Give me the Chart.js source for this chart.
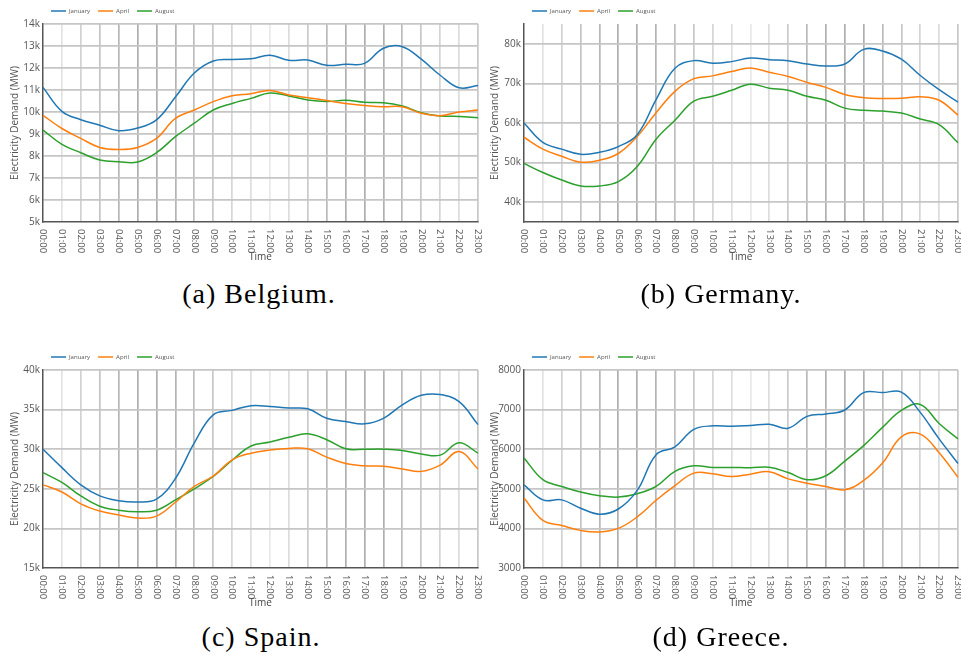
<!DOCTYPE html>
<html>
<head>
<meta charset="utf-8">
<script src="https://cdn.jsdelivr.net/npm/chart.js@4.4.1/dist/chart.umd.min.js"></script>
<style>
  html, body { margin: 0; padding: 0; background: #fff; }
  body { width: 961px; height: 660px; position: relative; overflow: hidden; }
  canvas { position: absolute; display: block; }
  .cap {
    position: absolute; width: 320px; text-align: center;
    font-family: 'Liberation Serif', 'DejaVu Serif', 'Noto Serif', Tinos, 'Times New Roman', Times, FreeSerif, Georgia, serif;
    font-size: 28px; line-height: 28px; letter-spacing: 1px; color: #000;
  }
</style>
</head>
<body>
<canvas id="belgium" width="492" height="270" style="left:0;top:0"></canvas>
<canvas id="germany" width="481" height="270" style="left:480px;top:0"></canvas>
<canvas id="spain" width="492" height="270" style="left:0;top:346px"></canvas>
<canvas id="greece" width="481" height="270" style="left:480px;top:346px"></canvas>
<div class="cap" style="left:99px;top:280px">(a) Belgium.</div>
<div class="cap" style="left:561px;top:280px">(b) Germany.</div>
<div class="cap" style="left:101px;top:623px">(c) Spain.</div>
<div class="cap" style="left:561px;top:623px">(d) Greece.</div>
<script>
// Hour-of-day categories
const hours = ['00:00','01:00','02:00','03:00','04:00','05:00','06:00','07:00','08:00','09:00','10:00','11:00',
               '12:00','13:00','14:00','15:00','16:00','17:00','18:00','19:00','20:00','21:00','22:00','23:00'];
const months = ['January', 'April', 'August'];

// Average hourly electricity demand (MW)
const belgiumJan = [11120, 10030, 9650, 9400, 9150, 9270, 9640, 10680, 11770, 12320, 12390, 12420, 12580, 12350, 12360, 12120, 12170, 12210, 12900, 12970, 12400, 11670, 11100, 11200];
const belgiumApr = [9850, 9250, 8800, 8390, 8300, 8390, 8800, 9710, 10090, 10470, 10740, 10830, 10980, 10770, 10650, 10520, 10390, 10300, 10240, 10240, 9940, 9830, 10000, 10090];
const belgiumAug = [9180, 8530, 8150, 7820, 7740, 7730, 8150, 8880, 9490, 10090, 10390, 10620, 10860, 10730, 10550, 10480, 10530, 10440, 10420, 10270, 9970, 9820, 9800, 9740];

const germanyJan = [60000, 55100, 53400, 52100, 52600, 54050, 57050, 65900, 73800, 75750, 75100, 75500, 76400, 76000, 75700, 74900, 74400, 74900, 78600, 78200, 76100, 72000, 68400, 65300];
const germanyApr = [56400, 53400, 51600, 50100, 50600, 52300, 56600, 62600, 68000, 71200, 71900, 73000, 73900, 72800, 71750, 70250, 69000, 67200, 66400, 66200, 66250, 66600, 65750, 62000];
const germanyAug = [49800, 47500, 45600, 44100, 44100, 45200, 49000, 55900, 60700, 65500, 66750, 68250, 69800, 68800, 68250, 66750, 65750, 63750, 63200, 63000, 62500, 61000, 59600, 55000];

const spainJan = [30000, 27670, 25500, 24100, 23500, 23330, 23700, 26300, 30800, 34330, 34900, 35500, 35400, 35200, 35100, 33900, 33500, 33200, 33900, 35600, 36800, 36900, 36000, 33100];
const spainApr = [25500, 24600, 23100, 22200, 21700, 21300, 21550, 23300, 25300, 26600, 28650, 29500, 29900, 30100, 30050, 29000, 28200, 27900, 27850, 27500, 27200, 28000, 29700, 27500];
const spainAug = [27050, 25800, 24100, 22800, 22300, 22100, 22300, 23600, 25000, 26550, 28600, 30400, 30900, 31500, 31950, 31200, 30050, 30000, 30000, 29850, 29400, 29250, 30800, 29500];

const greeceJan = [5100, 4720, 4720, 4510, 4360, 4490, 4960, 5860, 6060, 6500, 6590, 6580, 6600, 6630, 6530, 6830, 6890, 6990, 7430, 7430, 7440, 6930, 6260, 5640];
const greeceApr = [4765, 4200, 4075, 3950, 3910, 4000, 4290, 4710, 5080, 5395, 5380, 5310, 5370, 5430, 5250, 5140, 5060, 4975, 5210, 5650, 6310, 6380, 5910, 5290];
const greeceAug = [5780, 5230, 5060, 4920, 4825, 4790, 4875, 5060, 5440, 5580, 5540, 5540, 5530, 5545, 5410, 5230, 5330, 5700, 6090, 6550, 6980, 7130, 6650, 6260];

// Y-axis tick values
const belgiumTicks = [5000, 6000, 7000, 8000, 9000, 10000, 11000, 12000, 13000, 14000];
const germanyTicks = [40000, 50000, 60000, 70000, 80000];
const spainTicks = [15000, 20000, 25000, 30000, 35000, 40000];
const greeceTicks = [3000, 4000, 5000, 6000, 7000, 8000];

// Styling
const lineColors = ['#1f77b4', '#ff7f0e', '#2ca02c'];
const hourGridShade = ['rgba(0,0,0,0)', '#e2e2e2', '#d2d2d2', '#c4c4c4', '#b6b6b6', '#aeaeae', '#aeaeae', '#b4b4b4',
                       '#bebebe', '#c8c8c8', '#d6d6d6', '#dedede', '#e8e8e8', '#dcdcdc', '#cacaca', '#bababa',
                       '#b0b0b0', '#aeaeae', '#b0b0b0', '#bcbcbc', '#c8c8c8', '#d4d4d4', '#dcdcdc', '#c8c8c8'];

Chart.defaults.font.family = '"Open Sans", sans-serif';
Chart.defaults.color = '#555';

// Hour labels written top-to-bottom under each vertical grid line
const hourLabels = {
  id: 'hourLabels',
  afterDraw(chart) {
    const xs = chart.scales.x;
    const ctx = chart.ctx;
    ctx.save();
    ctx.font = '9.5px "Open Sans", sans-serif';
    ctx.fillStyle = '#555';
    ctx.textAlign = 'left';
    ctx.textBaseline = 'middle';
    xs.ticks.forEach((t, i) => {
      const px = xs.getPixelForTick(i);
      ctx.save();
      ctx.translate(px, xs.top + 7);
      ctx.rotate(Math.PI / 2);
      ctx.fillText(xs.getLabelForValue(t.value), 0, 0);
      ctx.restore();
    });
    ctx.restore();
  }
};

function drawDemand(id, series, tickValues, fmt, axisWidth, padRight, halfStepBounds) {
  const span = tickValues[1] - tickValues[0];
  const yMin = halfStepBounds ? tickValues[0] - span / 2 : tickValues[0];
  const yMax = halfStepBounds ? tickValues[tickValues.length - 1] + span / 2 : tickValues[tickValues.length - 1];
  new Chart(document.getElementById(id), {
    type: 'line',
    data: {
      labels: hours,
      datasets: series.map((vals, k) => ({
        label: months[k],
        data: vals,
        borderColor: lineColors[k],
        backgroundColor: lineColors[k],
        borderWidth: 1.5,
        pointRadius: 0,
        tension: 0.4,
        fill: false
      }))
    },
    options: {
      responsive: false,
      animation: false,
      devicePixelRatio: 1,
      layout: { padding: { left: 0, right: padRight, top: 0, bottom: 0 } },
      plugins: {
        tooltip: { enabled: false },
        legend: {
          position: 'top',
          align: 'start',
          fullSize: false,
          labels: {
            usePointStyle: true,
            pointStyle: 'line',
            pointStyleWidth: 15,
            padding: 8,
            color: '#555',
            font: { size: 6 }
          }
        }
      },
      scales: {
        x: {
          type: 'category',
          offset: false,
          afterFit: s => { s.height = 48; },
          ticks: { display: false },
          grid: {
            drawTicks: false,
            lineWidth: 1.7,
            color: ctx => hourGridShade[ctx.index % hourGridShade.length]
          },
          border: { display: true, color: '#555', width: 1.5 },
          title: {
            display: true, text: 'Time', color: '#444',
            font: { size: 10 }, padding: { top: 0, bottom: 7 }
          }
        },
        y: {
          min: yMin,
          max: yMax,
          afterFit: s => { s.width = axisWidth; },
          afterBuildTicks: s => { s.ticks = tickValues.map(v => ({ value: v })); },
          ticks: {
            padding: 3,
            color: '#555',
            font: { size: 10 },
            callback: v => fmt(v)
          },
          grid: {
            drawTicks: false,
            lineWidth: 1.7,
            color: ctx => (ctx.tick && ctx.tick.value === yMin) ? 'rgba(0,0,0,0)' : '#c6c6c6'
          },
          border: { display: true, color: '#555', width: 1.5 },
          title: {
            display: true, text: 'Electricity Demand (MW)', color: '#555',
            font: { size: 10 }, padding: { top: 9, bottom: 0 }
          }
        }
      }
    },
    plugins: [hourLabels]
  });
}

const kFmt = v => (v / 1000) + 'k';
const plainFmt = v => String(v);

// Left column charts get 14px of right padding so the 23:00 label is not cut off
drawDemand('belgium', [belgiumJan, belgiumApr, belgiumAug], belgiumTicks, kFmt, 43, 14, false);
drawDemand('germany', [germanyJan, germanyApr, germanyAug], germanyTicks, kFmt, 44, 3, true);
drawDemand('spain', [spainJan, spainApr, spainAug], spainTicks, kFmt, 43, 14, false);
drawDemand('greece', [greeceJan, greeceApr, greeceAug], greeceTicks, plainFmt, 44, 3, false);
</script>
</body>
</html>
